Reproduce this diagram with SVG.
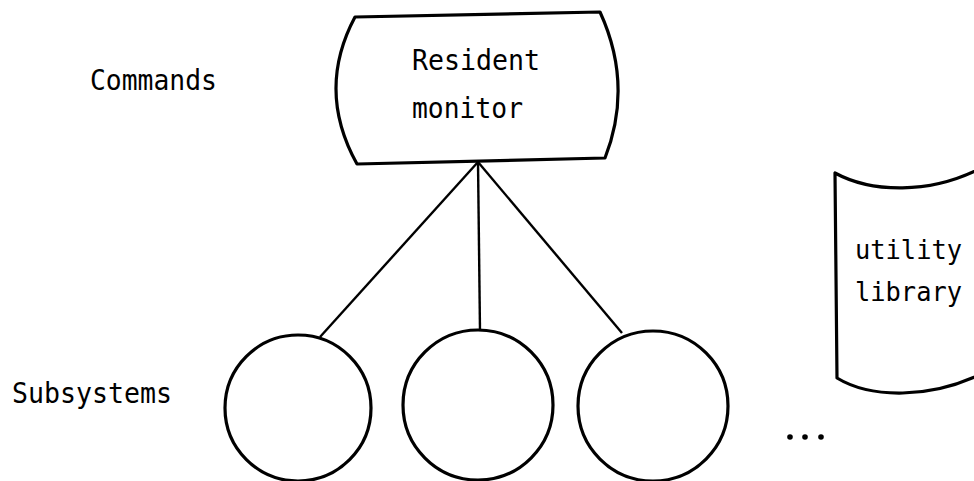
<svg xmlns="http://www.w3.org/2000/svg" width="974" height="481" viewBox="0 0 974 481">
<style>
.shape{fill:none;stroke:#000;stroke-width:3.2;stroke-linejoin:round}
.conn{fill:none;stroke:#000;stroke-width:2.4}
.t{font-family:"DejaVu Sans Mono","Liberation Mono",monospace;font-size:29px;fill:#000}
.s{font-size:26px}
</style>
<rect width="974" height="481" fill="#fff"/>
<g id="labels">
<text class="t" x="90" y="90" textLength="127" lengthAdjust="spacingAndGlyphs">Commands</text>
<text class="t" x="12" y="403" textLength="160" lengthAdjust="spacingAndGlyphs">Subsystems</text>
</g>
<g id="connectors">
<line class="conn" x1="478" y1="162" x2="320" y2="337"/>
<line class="conn" x1="478" y1="162" x2="480" y2="331"/>
<line class="conn" x1="478" y1="162" x2="622" y2="333"/>
</g>
<g id="resident-monitor">
<path class="shape" d="M355,17 L600,12 Q633.5,85 605,158 L357,164 Q316,90 355,17 Z"/>
<text class="t" x="412" y="70" textLength="128" lengthAdjust="spacingAndGlyphs">Resident</text>
<text class="t" x="412" y="118" textLength="111" lengthAdjust="spacingAndGlyphs">monitor</text>
</g>
<g id="subsystem-1"><circle class="shape" cx="298" cy="408" r="73"/></g>
<g id="subsystem-2"><circle class="shape" cx="478" cy="405" r="75"/></g>
<g id="subsystem-3"><circle class="shape" cx="653" cy="406" r="75"/></g>
<g id="utility-library">
<path class="shape" d="M985,166 C930,196 870,192 835,173 L837,378 C870,398 930,400 985,372"/>
<text class="t s" x="855" y="259" textLength="107" lengthAdjust="spacingAndGlyphs">utility</text>
<text class="t s" x="855" y="301" textLength="107" lengthAdjust="spacingAndGlyphs">library</text>
</g>
<g id="ellipsis">
<circle cx="790" cy="437" r="2.8" fill="#000"/>
<circle cx="805" cy="437" r="2.8" fill="#000"/>
<circle cx="821" cy="437" r="2.8" fill="#000"/>
</g>
</svg>
